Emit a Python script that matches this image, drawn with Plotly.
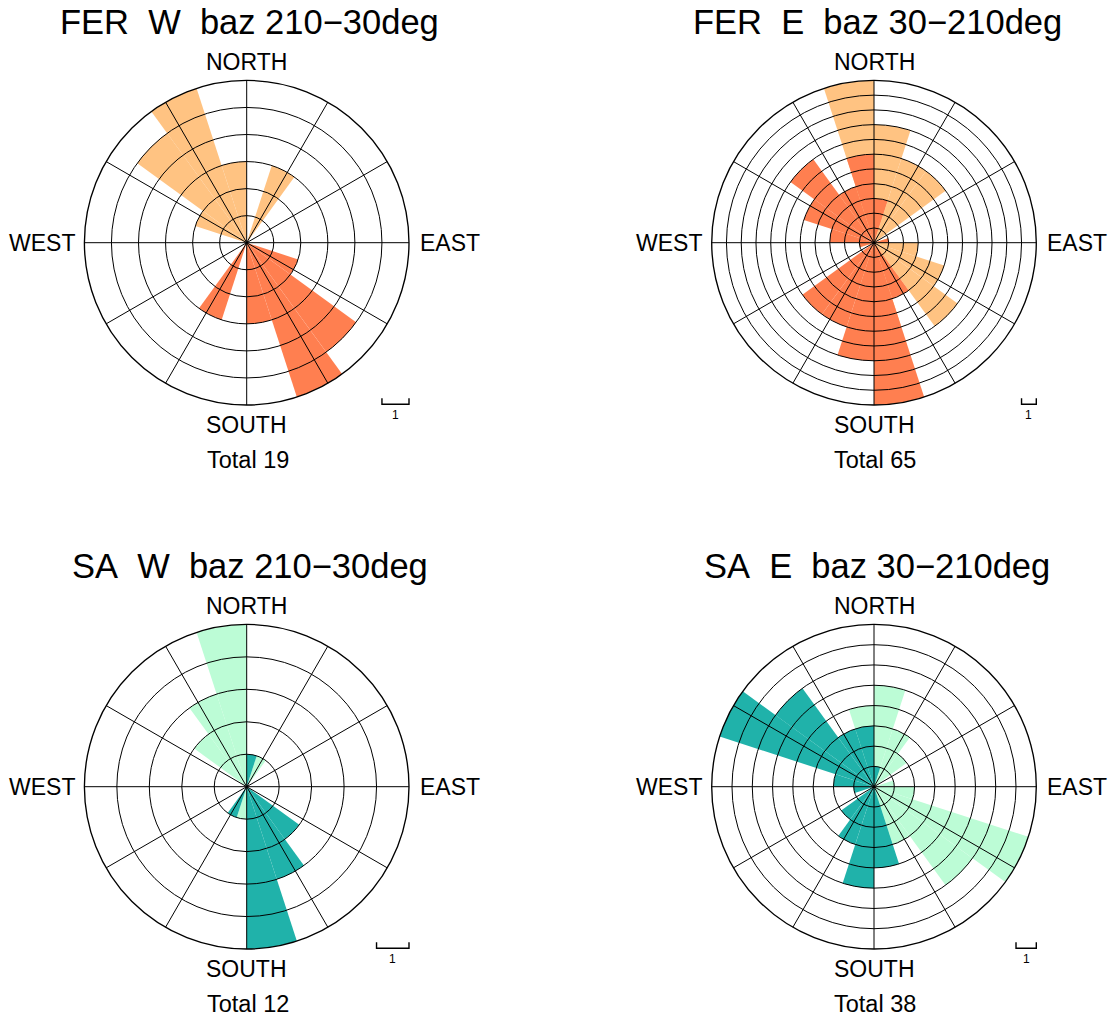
import plotly.graph_objects as go

W, H = 1117, 1019

# 20 direction bins of 18 degrees, starting at north, clockwise
bin_width = 18
bin_centers = [9 + 18 * i for i in range(20)]

# counts per bin (dark = measured directions, light = the same rotated by 180 deg)
fer_w_dark = [0, 0, 0, 0, 0, 0, 2, 5, 6, 3, 0, 3, 0, 0, 0, 0, 0, 0, 0, 0]
fer_w_light = [0, 3, 0, 0, 0, 0, 0, 0, 0, 0, 0, 0, 0, 0, 0, 0, 2, 5, 6, 3]

fer_e_dark = [3, 0, 0, 0, 1, 0, 0, 0, 4, 11, 8, 6, 6, 0, 1, 3, 5, 7, 4, 6]
fer_e_light = [8, 6, 6, 0, 1, 3, 5, 7, 4, 6, 3, 0, 0, 0, 1, 0, 0, 0, 4, 11]

sa_w_dark = [1, 0, 0, 0, 0, 0, 0, 2, 3, 5, 0, 1, 0, 0, 0, 0, 0, 0, 0, 0]
sa_w_light = [0, 1, 0, 0, 0, 0, 0, 0, 0, 0, 1, 0, 0, 0, 0, 0, 0, 2, 3, 5]

sa_e_dark = [1, 0, 0, 0, 0, 0, 0, 0, 0, 4, 5, 3, 2, 0, 1, 2, 8, 6, 3, 3]
sa_e_light = [5, 3, 2, 0, 1, 2, 8, 6, 3, 3, 1, 0, 0, 0, 0, 0, 0, 0, 0, 4]

titles = ["FER\u00a0\u00a0W\u00a0\u00a0baz 210\u221230deg",
          "FER\u00a0\u00a0E\u00a0\u00a0baz 30\u2212210deg",
          "SA\u00a0\u00a0W\u00a0\u00a0baz 210\u221230deg",
          "SA\u00a0\u00a0E\u00a0\u00a0baz 30\u2212210deg"]
totals = [19, 65, 12, 38]

panels = [
    (fer_w_dark, fer_w_light, "#FF7F50", "#FFC382"),
    (fer_e_dark, fer_e_light, "#FF7F50", "#FFC382"),
    (sa_w_dark, sa_w_light, "#20B2AA", "#BCFCD6"),
    (sa_e_dark, sa_e_light, "#20B2AA", "#BCFCD6"),
]
centers = [(246.7, 242.7), (874.0, 242.7), (246.7, 786.7), (874.0, 786.7)]
R = 162.3
LW = 1.35

FONT = "Liberation Sans, Arial, sans-serif"

fig = go.Figure()
layout = dict(width=W, height=H, margin=dict(l=0, r=0, t=0, b=0),
              paper_bgcolor="white", plot_bgcolor="white", showlegend=False,
              font=dict(family=FONT, color="black"))
annotations = []
shapes = []

def px(x):
    return x / W

def py(y):
    return 1 - y / H

for k, ((dark, light, cdark, clight), (cx, cy)) in enumerate(zip(panels, centers)):
    rmax = max(max(dark), max(light))
    dom = dict(x=[px(cx - R), px(cx + R)], y=[py(cy + R), py(cy - R)])
    data_id = "polar" if k == 0 else "polar%d" % (k + 1)
    grid_id = "polar%d" % (k + 5)

    fig.add_trace(go.Barpolar(r=light, theta=bin_centers, width=bin_width,
                              marker=dict(color=clight, line=dict(width=0)),
                              subplot=data_id, hoverinfo="skip"))
    fig.add_trace(go.Barpolar(r=dark, theta=bin_centers, width=bin_width,
                              marker=dict(color=cdark, line=dict(width=0)),
                              subplot=data_id, hoverinfo="skip"))
    fig.add_trace(go.Scatterpolar(r=[0], theta=[0], mode="markers",
                                  marker=dict(opacity=0), subplot=grid_id,
                                  hoverinfo="skip"))

    layout[data_id] = dict(
        domain=dom, bgcolor="rgba(0,0,0,0)", barmode="overlay",
        radialaxis=dict(range=[0, rmax], showgrid=False, showline=False,
                        showticklabels=False, ticks=""),
        angularaxis=dict(rotation=90, direction="clockwise", showgrid=False,
                         showline=False, showticklabels=False, ticks=""))
    layout[grid_id] = dict(
        domain=dom, bgcolor="rgba(0,0,0,0)",
        radialaxis=dict(range=[0, rmax], tickvals=list(range(1, rmax + 1)),
                        showgrid=True, gridcolor="black", gridwidth=LW,
                        showline=False, showticklabels=False, ticks=""),
        angularaxis=dict(rotation=90, direction="clockwise",
                         tickvals=list(range(0, 360, 30)),
                         showgrid=True, gridcolor="black", gridwidth=LW,
                         showline=True, linecolor="black", linewidth=LW,
                         showticklabels=False, ticks=""))

    # texts
    annotations.append(dict(text=titles[k], x=px(cx + 3), y=py(cy - 221),
                            xref="paper", yref="paper", showarrow=False,
                            xanchor="center", yanchor="middle",
                            font=dict(size=34.5, family=FONT, color="black")))
    for lab, dx, dy in [("NORTH", 0, -181), ("EAST", 203, 0),
                        ("SOUTH", 0, 182), ("WEST", -205, 0)]:
        annotations.append(dict(text=lab, x=px(cx + dx), y=py(cy + dy),
                                xref="paper", yref="paper", showarrow=False,
                                xanchor="center", yanchor="middle",
                                font=dict(size=23, family=FONT, color="black")))
    annotations.append(dict(text="Total %d" % totals[k], x=px(cx + 1), y=py(cy + 217),
                            xref="paper", yref="paper", showarrow=False,
                            xanchor="center", yanchor="middle",
                            font=dict(size=23.5, family=FONT, color="black")))

    # scale bar of one count
    unit = R / rmax
    x1 = cx + R
    x0 = x1 - unit
    yb = cy + 161.5
    yt = yb - 6
    shapes.append(dict(type="path", xref="paper", yref="paper",
                       path="M %f,%f L %f,%f L %f,%f L %f,%f" % (
                           px(x0), py(yt), px(x0), py(yb), px(x1), py(yb), px(x1), py(yt)),
                       line=dict(color="black", width=1.4)))
    annotations.append(dict(text="1", x=px((x0 + x1) / 2), y=py(yb + 11),
                            xref="paper", yref="paper", showarrow=False,
                            xanchor="center", yanchor="middle",
                            font=dict(size=12, family=FONT, color="black")))

layout["annotations"] = annotations
layout["shapes"] = shapes
fig.update_layout(**layout)
fig.write_html("out.html")
